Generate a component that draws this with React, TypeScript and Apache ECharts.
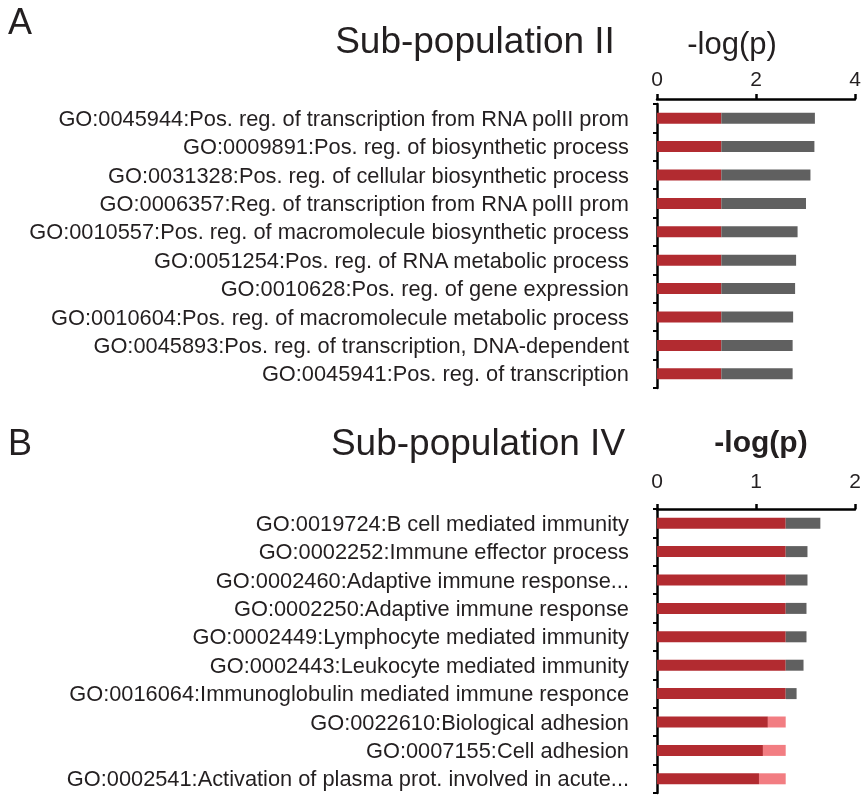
import React, { useEffect, useRef } from 'react';
import * as echarts from 'echarts';

// significance cut-off, -log10(0.05)
const THRESHOLD = 1.3;

const categoriesA = [
    'GO:0045944:Pos. reg. of transcription from RNA polII prom',
    'GO:0009891:Pos. reg. of biosynthetic process',
    'GO:0031328:Pos. reg. of cellular biosynthetic process',
    'GO:0006357:Reg. of transcription from RNA polII prom',
    'GO:0010557:Pos. reg. of macromolecule biosynthetic process',
    'GO:0051254:Pos. reg. of RNA metabolic process',
    'GO:0010628:Pos. reg. of gene expression',
    'GO:0010604:Pos. reg. of macromolecule metabolic process',
    'GO:0045893:Pos. reg. of transcription, DNA-dependent',
    'GO:0045941:Pos. reg. of transcription',
];
const valuesA = [3.19, 3.18, 3.1, 3.01, 2.84, 2.81, 2.79, 2.75, 2.74, 2.74];

const categoriesB = [
    'GO:0019724:B cell mediated immunity',
    'GO:0002252:Immune effector process',
    'GO:0002460:Adaptive immune response...',
    'GO:0002250:Adaptive immune response',
    'GO:0002449:Lymphocyte mediated immunity',
    'GO:0002443:Leukocyte mediated immunity',
    'GO:0016064:Immunoglobulin mediated immune responce',
    'GO:0022610:Biological adhesion',
    'GO:0007155:Cell adhesion',
    'GO:0002541:Activation of plasma prot. involved in acute...',
];
const valuesB = [1.65, 1.52, 1.52, 1.51, 1.51, 1.48, 1.41, 1.12, 1.07, 1.03];

const ticksA = { min: 0, max: 4, interval: 2 };
const ticksB = { min: 0, max: 2, interval: 1 };

const FONT = '"Liberation Sans", Arial, Helvetica, sans-serif';
const RED = '#b22b30';
const GRAY = '#606060';
const PINK = '#f27d82';
const INK = '#231f20';

const App: React.FC = () => {
    const chartRef = useRef<HTMLDivElement>(null);

    useEffect(() => {
        if (!chartRef.current) return;
        const chart = echarts.init(chartRef.current, undefined, { renderer: 'svg' });

        const valueAxis = (gridIndex: number, t: { min: number; max: number; interval: number }, offset: number, margin: number) => ({
            type: 'value' as const,
            gridIndex,
            position: 'top' as const,
            offset,
            min: t.min,
            max: t.max,
            interval: t.interval,
            splitLine: { show: false },
            axisLine: { show: true, lineStyle: { color: '#000', width: 2.5 } },
            axisTick: { show: true, length: 5, lineStyle: { color: '#000', width: 2.5 } },
            axisLabel: { fontSize: 21, color: INK, fontFamily: FONT, margin },
        });

        const categoryAxis = (gridIndex: number, data: string[]) => ({
            type: 'category' as const,
            gridIndex,
            inverse: true,
            data,
            axisLine: { show: true, lineStyle: { color: '#000', width: 2.5 } },
            axisTick: { show: true, interval: 0, length: 4, lineStyle: { color: '#000', width: 2 } },
            axisLabel: { interval: 0, fontSize: 21.8, color: INK, fontFamily: FONT, margin: 28 },
        });

        const stacked = (idx: number, vals: number[]) => {
            const common = {
                type: 'bar' as const,
                xAxisIndex: idx,
                yAxisIndex: idx,
                stack: 'p' + idx,
                barWidth: 11,
                silent: true,
            };
            return [
                { ...common, name: 'sig', data: vals.map((v) => Math.min(v, THRESHOLD)), itemStyle: { color: RED } },
                { ...common, name: 'excess', data: vals.map((v) => Math.max(v - THRESHOLD, 0)), itemStyle: { color: GRAY } },
                { ...common, name: 'gap', data: vals.map((v) => Math.max(THRESHOLD - v, 0)), itemStyle: { color: PINK } },
            ];
        };

        const txt = (text: string, x: number, y: number, size: number, weight = 'normal') => ({
            type: 'text' as const,
            x,
            y,
            style: {
                text,
                fontSize: size,
                fontWeight: weight,
                fontFamily: FONT,
                fill: INK,
                align: 'center',
                verticalAlign: 'middle',
            },
        });

        chart.setOption({
            animation: false,
            grid: [
                { left: 657, right: 10, top: 104, height: 284 },
                { left: 657, right: 10, top: 509, height: 284 },
            ],
            xAxis: [valueAxis(0, ticksA, 5, 10), valueAxis(1, ticksB, 0, 18)],
            yAxis: [categoryAxis(0, categoriesA), categoryAxis(1, categoriesB)],
            series: [...stacked(0, valuesA), ...stacked(1, valuesB)],
            graphic: [
                txt('A', 20, 21, 36),
                txt('Sub-population II', 475, 40, 37),
                txt('-log(p)', 732, 43, 31),
                txt('B', 20, 442, 36),
                txt('Sub-population IV', 478, 442, 37),
                txt('-log(p)', 761, 441, 30, 'bold'),
            ],
        });

        return () => {
            chart.dispose();
        };
    }, []);

    return <div ref={chartRef} style={{ position: 'fixed', left: 0, top: 0, width: 865, height: 800 }} />;
};

export default App;
